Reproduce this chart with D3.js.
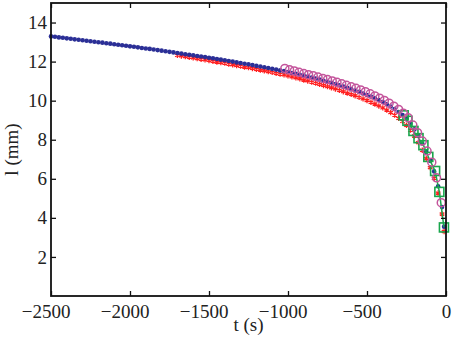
<!DOCTYPE html>
<html>
<head>
<meta charset="utf-8">
<script src="https://cdn.jsdelivr.net/npm/d3@7"></script>
<style>
  body { margin: 0; background: #fff; }
  svg text { font-family: "Liberation Serif", "Times New Roman", Times, "DejaVu Serif", serif !important; }
</style>
</head>
<body>
<svg id="chart" width="463" height="341"></svg>
<script>
// tick values
var xTicks = [-2500, -2000, -1500, -1000, -500, 0];
var yTicks = [2, 4, 6, 8, 10, 12, 14];

// blue dots
var blueT = [-2500, -2475, -2450, -2425, -2400, -2375, -2350, -2325, -2300, -2275,
  -2250, -2225, -2200, -2175, -2150, -2125, -2100, -2075, -2050, -2025,
  -2000, -1975, -1950, -1925, -1900, -1875, -1850, -1825, -1800, -1775,
  -1750, -1725, -1700, -1675, -1650, -1625, -1600, -1575, -1550, -1525,
  -1500, -1475, -1450, -1425, -1400, -1375, -1350, -1325, -1300, -1275,
  -1250, -1225, -1200, -1175, -1150, -1125, -1100, -1075, -1050, -1025,
  -1000, -975, -950, -925, -900, -875, -850, -825, -800, -775,
  -750, -725, -700, -675, -650, -625, -600, -575, -550, -525,
  -500, -475, -450, -425, -400, -375, -350, -325, -300, -275,
  -250, -225, -200, -175, -150, -125, -100, -75, -50, -25, -12];
var blueL = [13.29, 13.27, 13.24, 13.22, 13.19, 13.17, 13.14, 13.12, 13.09, 13.07,
  13.04, 13.02, 12.99, 12.97, 12.94, 12.92, 12.89, 12.86, 12.84, 12.81,
  12.78, 12.76, 12.73, 12.70, 12.67, 12.65, 12.62, 12.59, 12.56, 12.53,
  12.50, 12.47, 12.44, 12.41, 12.38, 12.35, 12.32, 12.29, 12.26, 12.23,
  12.20, 12.17, 12.13, 12.10, 12.07, 12.03, 12.00, 11.96, 11.93, 11.89,
  11.86, 11.82, 11.78, 11.75, 11.71, 11.67, 11.63, 11.59, 11.55, 11.51,
  11.47, 11.42, 11.38, 11.33, 11.28, 11.23, 11.18, 11.13, 11.08, 11.02,
  10.97, 10.91, 10.85, 10.79, 10.72, 10.66, 10.59, 10.52, 10.45, 10.37,
  10.29, 10.21, 10.12, 10.03, 9.93, 9.82, 9.70, 9.57, 9.42, 9.26,
  9.07, 8.82, 8.53, 8.19, 7.81, 7.38, 6.92, 6.38, 5.62, 4.55, 3.55];

// red stars
var redT = [-1700, -1675, -1650, -1625, -1600, -1575, -1550, -1525,
  -1500, -1475, -1450, -1425, -1400, -1375, -1350, -1325, -1300, -1275,
  -1250, -1225, -1200, -1175, -1150, -1125, -1100, -1075, -1050, -1025,
  -1000, -975, -950, -925, -900, -875, -850, -825, -800, -775,
  -750, -725, -700, -675, -650, -625, -600, -575, -550, -525,
  -500, -475, -450, -425, -400, -375, -350, -325, -300, -275,
  -250, -225, -200, -175, -150, -125, -100, -75, -50, -25, -12];
var redL = [12.32, 12.29, 12.26, 12.22, 12.19, 12.16, 12.12, 12.09,
  12.06, 12.02, 11.98, 11.95, 11.92, 11.87, 11.84, 11.80, 11.77, 11.72,
  11.69, 11.65, 11.61, 11.57, 11.53, 11.49, 11.45, 11.40, 11.36, 11.32,
  11.27, 11.22, 11.17, 11.12, 11.06, 11.01, 10.95, 10.90, 10.84, 10.78,
  10.72, 10.66, 10.60, 10.53, 10.46, 10.39, 10.32, 10.25, 10.17, 10.09,
  10.01, 9.92, 9.83, 9.73, 9.63, 9.52, 9.39, 9.26, 9.10, 8.94,
  8.74, 8.49, 8.19, 7.85, 7.46, 7.03, 6.57, 6.03, 5.27, 4.20, 3.30];

// magenta circles
var circT = [-1020, -990, -960, -930, -900, -870, -840, -810, -780, -750,
  -720, -690, -660, -630, -600, -570, -540, -510, -480, -450,
  -420, -390, -360, -330, -300, -270, -240, -210, -180, -150,
  -120, -90, -60, -30];
var circL = [11.65, 11.58, 11.52, 11.45, 11.39, 11.33, 11.27, 11.21, 11.14, 11.08,
  11.01, 10.94, 10.86, 10.79, 10.71, 10.63, 10.55, 10.46, 10.35, 10.24,
  10.13, 10.01, 9.87, 9.72, 9.55, 9.36, 9.13, 8.75, 8.36, 7.93,
  7.42, 6.85, 6.05, 4.78];

// green squares
var sqT = [-268, -244, -206, -174, -143, -112, -69, -42, -13];
var sqL = [9.25, 8.97, 8.45, 8.08, 7.72, 7.12, 6.40, 5.33, 3.51];

var margin = {top: 3, right: 17, bottom: 45, left: 51};
var width = 463 - margin.left - margin.right,
    height = 341 - margin.top - margin.bottom;

var serif = "'Liberation Serif', 'Times New Roman', Times, 'DejaVu Serif', serif";

var xScale = d3.scaleLinear().domain([-2500, 0]).range([0, width]);
var yScale = d3.scaleLinear().domain([0, 15]).range([height, 0]);

var svg = d3.select("#chart")
  .append("g")
  .attr("transform", "translate(" + margin.left + "," + margin.top + ")");

function zip(ts, ls) {
  return ts.map(function(t, i) { return {t: t, l: ls[i]}; });
}

// red stars
svg.append("g").selectAll("path")
  .data(zip(redT, redL))
  .enter().append("path")
  .attr("d", d3.symbol(d3.symbolAsterisk, 20))
  .attr("transform", d => "translate(" + xScale(d.t) + "," + yScale(d.l) + ")")
  .attr("fill", "none")
  .attr("stroke", "#ff2020")
  .attr("stroke-width", 1.3);

// blue dots
svg.append("g").selectAll("circle")
  .data(zip(blueT, blueL))
  .enter().append("circle")
  .attr("cx", d => xScale(d.t))
  .attr("cy", d => yScale(d.l))
  .attr("r", 2.3)
  .attr("fill", "#2b2f96");

// green line + squares
var sqData = zip(sqT, sqL);
svg.append("path")
  .datum(sqData)
  .attr("d", d3.line().x(d => xScale(d.t)).y(d => yScale(d.l)))
  .attr("fill", "none")
  .attr("stroke", "#19a64c")
  .attr("stroke-width", 1.5);

svg.append("g").selectAll("rect")
  .data(sqData)
  .enter().append("rect")
  .attr("x", d => xScale(d.t) - 4.5)
  .attr("y", d => yScale(d.l) - 4.5)
  .attr("width", 9)
  .attr("height", 9)
  .attr("fill", "none")
  .attr("stroke", "#19a64c")
  .attr("stroke-width", 1.6);

// magenta circles
svg.append("g").selectAll("circle")
  .data(zip(circT, circL))
  .enter().append("circle")
  .attr("cx", d => xScale(d.t))
  .attr("cy", d => yScale(d.l))
  .attr("r", 4)
  .attr("fill", "none")
  .attr("stroke", "#c4559c")
  .attr("stroke-width", 1.5);

// axes, ticks pointing inward
var fmt = d3.format("");
svg.append("g")
  .attr("class", "axis x-axis")
  .attr("transform", "translate(0," + height + ")")
  .call(d3.axisBottom(xScale).tickValues(xTicks).tickSizeInner(-5).tickSizeOuter(0).tickPadding(9).tickFormat(fmt));
svg.append("g")
  .attr("class", "axis")
  .call(d3.axisTop(xScale).tickValues(xTicks).tickSizeInner(-5).tickSizeOuter(0).tickFormat(""));
svg.append("g")
  .attr("class", "axis")
  .call(d3.axisLeft(yScale).tickValues(yTicks).tickSizeInner(-5).tickSizeOuter(0).tickPadding(4));
svg.append("g")
  .attr("class", "axis")
  .attr("transform", "translate(" + width + ",0)")
  .call(d3.axisRight(yScale).tickValues(yTicks).tickSizeInner(-5).tickSizeOuter(0).tickFormat(""));

svg.selectAll(".axis").attr("font-family", serif).attr("font-size", 19);
svg.selectAll(".axis .domain").remove();
svg.selectAll(".axis line").attr("stroke", "#111").attr("stroke-width", 1.3);
svg.selectAll(".axis text")
  .attr("fill", "#222")
  .attr("font-family", serif)
  .style("font-size", "19px");

// digits are centred on the tick, minus sign hangs to the left
svg.selectAll(".x-axis text")
  .attr("dx", d => d < 0 ? "-0.28em" : 0);

svg.append("rect")
  .attr("width", width)
  .attr("height", height)
  .attr("fill", "none")
  .attr("stroke", "#111")
  .attr("stroke-width", 1.8);

// axis labels
svg.append("text")
  .attr("x", width / 2)
  .attr("y", height + 35)
  .attr("text-anchor", "middle")
  .attr("fill", "#222")
  .attr("font-family", serif)
  .style("font-size", "19px")
  .text("t (s)");

svg.append("text")
  .attr("transform", "translate(-33," + (height / 2) + ") rotate(-90)")
  .attr("text-anchor", "middle")
  .attr("fill", "#222")
  .attr("font-family", serif)
  .style("font-size", "19px")
  .text("l (mm)");
</script>
</body>
</html>
